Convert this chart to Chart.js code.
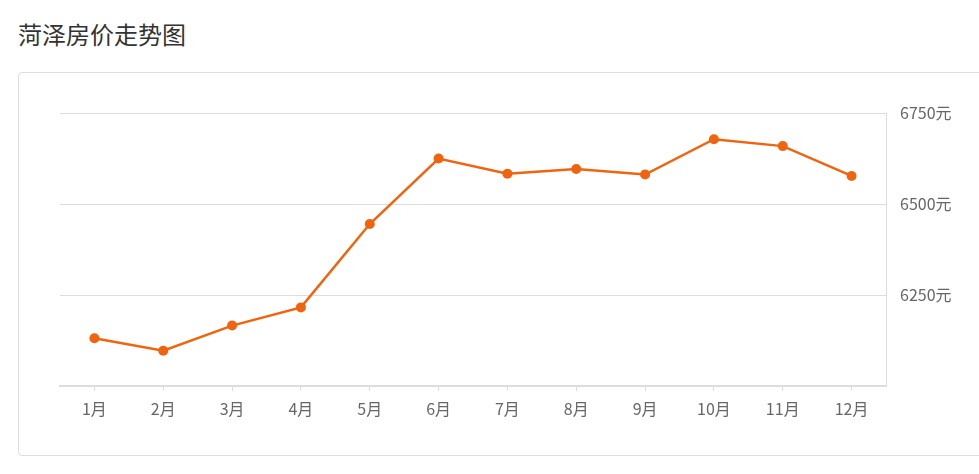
<!DOCTYPE html>
<html>
<head>
<meta charset="utf-8">
<script src="https://cdn.jsdelivr.net/npm/chart.js@4/dist/chart.umd.min.js"></script>
<style>
    body { margin: 0; width: 979px; height: 474px; overflow: hidden; background: #fff; position: relative; }
    .title { position: absolute; left: 18px; top: 18px; font: 24px "Noto Sans CJK SC", sans-serif; color: #333; line-height: 32px; }
    .box { position: absolute; left: 18px; top: 72px; width: 1000px; height: 382px; border: 1px solid #ddd; border-radius: 4px; }
    .wrap { position: absolute; left: 0; top: 0; width: 979px; height: 474px; }
</style>
</head>
<body>
<div class="title">菏泽房价走势图</div>
<div class="box"></div>
<div class="wrap"><canvas id="chart"></canvas></div>
<script>
    var months = ['1月', '2月', '3月', '4月', '5月', '6月', '7月', '8月', '9月', '10月', '11月', '12月']
    var prices = [6131, 6097, 6166, 6216, 6445, 6625, 6583, 6596, 6581, 6678, 6659, 6577]
    var yTicks = [6250, 6500, 6750]

    var labelFont = { family: '"Noto Sans CJK SC", sans-serif', size: 16 }

    new Chart(document.getElementById('chart'), {
        type: 'line',
        data: {
            labels: months,
            datasets: [{
                data: prices,
                borderColor: '#f0640f',
                backgroundColor: '#f0640f',
                borderWidth: 2.5,
                pointRadius: 5,
                pointBorderWidth: 0,
                tension: 0
            }]
        },
        options: {
            responsive: true,
            maintainAspectRatio: false,
            animation: false,
            layout: { padding: { left: 60, top: 113, right: 0, bottom: 0 } },
            plugins: { legend: { display: false }, tooltip: { enabled: false } },
            scales: {
                x: {
                    offset: true,
                    afterFit: function (s) { s.height = 88 },
                    grid: { drawOnChartArea: false, drawTicks: true, tickLength: 5, color: '#ddd' },
                    border: { color: '#ddd', width: 2 },
                    ticks: { color: '#666', font: labelFont, padding: 8 }
                },
                y: {
                    position: 'right',
                    min: 6000,
                    max: 6750,
                    afterFit: function (s) { s.width = 93 },
                    afterBuildTicks: function (s) {
                        s.ticks = [6000].concat(yTicks).map(function (v) { return { value: v } })
                    },
                    grid: { color: '#ddd', drawTicks: false },
                    border: { color: '#ddd', width: 1 },
                    ticks: {
                        color: '#666',
                        font: labelFont,
                        padding: 14,
                        callback: function (v) { return v === 6000 ? '' : v + '元' }
                    }
                }
            }
        }
    })
</script>
</body>
</html>
